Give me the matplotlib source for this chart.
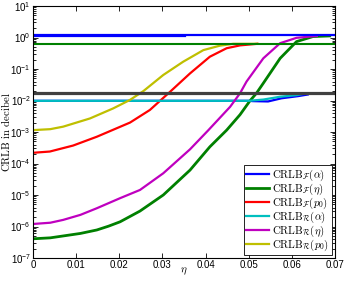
import numpy as np
import matplotlib
matplotlib.use('Agg')
import matplotlib.pyplot as plt
from matplotlib.ticker import LogLocator, NullFormatter

plt.rcParams['font.family'] = ['Liberation Sans', 'DejaVu Sans']
plt.rcParams['mathtext.fontset'] = 'custom'
plt.rcParams['mathtext.rm'] = 'Liberation Sans'
plt.rcParams['mathtext.it'] = 'Liberation Sans:italic'

# eta positions and log10(CRLB) values
eta_Fa = [0, 0.05, 0.051, 0.0545, 0.0576, 0.0615, 0.0637]
log_Fa = [-2.01, -2.01, -2.02, -2.03, -1.93, -1.86, -1.81]
eta_Fa_top = [0, 0.0352]
log_Fa_top = [0.05, 0.05]

eta_Fe = [0, 0.004, 0.007, 0.011, 0.0148, 0.0175, 0.0202, 0.0248, 0.0302, 0.0364, 0.041,
          0.0449, 0.048, 0.0503, 0.0518, 0.0534, 0.0573, 0.0611, 0.0649, 0.0688]
log_Fe = [-6.39, -6.36, -6.30, -6.22, -6.11, -5.99, -5.85, -5.51, -5.0, -4.21, -3.47,
          -2.94, -2.45, -2.01, -1.77, -1.45, -0.66, -0.13, 0.03, 0.05]

eta_Fp = [0, 0.0039, 0.0093, 0.0148, 0.0225, 0.0271, 0.0318, 0.0364, 0.041, 0.0449, 0.048, 0.052]
log_Fp = [-3.66, -3.62, -3.43, -3.15, -2.70, -2.30, -1.72, -1.14, -0.61, -0.34, -0.25, -0.20]

eta_Ra = [0, 0.05, 0.0534, 0.0573, 0.0611, 0.0634]
log_Ra = [-2.01, -2.01, -1.97, -1.88, -1.83, -1.77]

eta_Re = [0, 0.004, 0.007, 0.011, 0.0148, 0.0202, 0.0248, 0.0302, 0.0364, 0.0406, 0.0457,
          0.048, 0.0495, 0.0534, 0.0573, 0.0611, 0.0658]
log_Re = [-5.92, -5.88, -5.79, -5.63, -5.42, -5.10, -4.84, -4.31, -3.55, -2.95, -2.2,
          -1.77, -1.4, -0.66, -0.18, -0.01, 0.05]

eta_Rp = [0, 0.004, 0.007, 0.0132, 0.0186, 0.0225, 0.0256, 0.0302, 0.0348, 0.0395, 0.0433, 0.0464, 0.052]
log_Rp = [-2.94, -2.91, -2.83, -2.57, -2.25, -1.98, -1.70, -1.19, -0.77, -0.40, -0.26, -0.20, -0.20]

lev_blue = 1.2
lev_green = 0.63
lev_gray = 0.017

labels = [r'$\mathrm{CRLB}_{\mathcal{F}}(\alpha)$', r'$\mathrm{CRLB}_{\mathcal{F}}(\eta)$',
          r'$\mathrm{CRLB}_{\mathcal{F}}(p_0)$', r'$\mathrm{CRLB}_{\mathcal{R}}(\alpha)$',
          r'$\mathrm{CRLB}_{\mathcal{R}}(\eta)$', r'$\mathrm{CRLB}_{\mathcal{R}}(p_0)$']

fig = plt.figure(figsize=(3.46, 2.82), dpi=100)
ax = fig.add_axes([0.0954, 0.0851, 0.8726, 0.8936])
ax.set_yscale('log')

l1, = ax.plot(eta_Fa, 10**np.array(log_Fa), color='#0000ff', lw=1.6)
ax.plot(eta_Fa_top, 10**np.array(log_Fa_top), color='#0000ff', lw=1.6)
l2, = ax.plot(eta_Fe, 10**np.array(log_Fe), color='#008000', lw=2.0)
l3, = ax.plot(eta_Fp, 10**np.array(log_Fp), color='#ff0000', lw=1.6)
l4, = ax.plot(eta_Ra, 10**np.array(log_Ra), color='#00bfbf', lw=1.6)
l5, = ax.plot(eta_Re, 10**np.array(log_Re), color='#bf00bf', lw=1.6)
l6, = ax.plot(eta_Rp, 10**np.array(log_Rp), color='#bfbf00', lw=1.6)

ax.axhline(lev_blue, color='#0000ff', lw=1.6)
ax.axhline(lev_green, color='#008000', lw=1.5)
ax.axhline(lev_gray, color='#404040', lw=2.3)

ax.set_xlim(0, 0.07)
ax.set_ylim(1e-7, 1e1)
ax.set_xticks(np.arange(0, 0.071, 0.01))
ax.set_xticklabels(['0', '0.01', '0.02', '0.03', '0.04', '0.05', '0.06', '0.07'])
ax.yaxis.set_major_locator(LogLocator(base=10, numticks=20))
ax.yaxis.set_minor_locator(LogLocator(base=10, subs=np.arange(2, 10), numticks=20))
ax.yaxis.set_minor_formatter(NullFormatter())
ax.tick_params(which='both', direction='in', top=True, right=True, labelsize=7, width=0.6)
ax.tick_params(which='major', length=3.5)
ax.tick_params(axis='x', pad=1.5)
ax.tick_params(axis='y', pad=1.5)
ax.tick_params(which='minor', length=2)
for s in ax.spines.values():
    s.set_linewidth(0.8)

ax.set_xlabel(r'$\eta$', fontsize=8, math_fontfamily='cm')
ax.xaxis.set_label_coords(0.5, -0.03)
ax.set_ylabel(r'$\mathrm{CRLB\ in\ decibel}$', fontsize=7.8, math_fontfamily='cm')
ax.yaxis.set_label_coords(-0.069, 0.5)

leg = ax.legend([l1, l2, l3, l4, l5, l6], labels, loc='lower right', fontsize=7.8,
                labelspacing=-0.12, handlelength=2.1, handletextpad=0.3, borderpad=0.25,
                borderaxespad=0.25, fancybox=False, framealpha=1, edgecolor='black')
leg.get_frame().set_linewidth(0.6)
for t in leg.get_texts():
    t.set_math_fontfamily('cm')

fig.savefig('out.png', dpi=100)
